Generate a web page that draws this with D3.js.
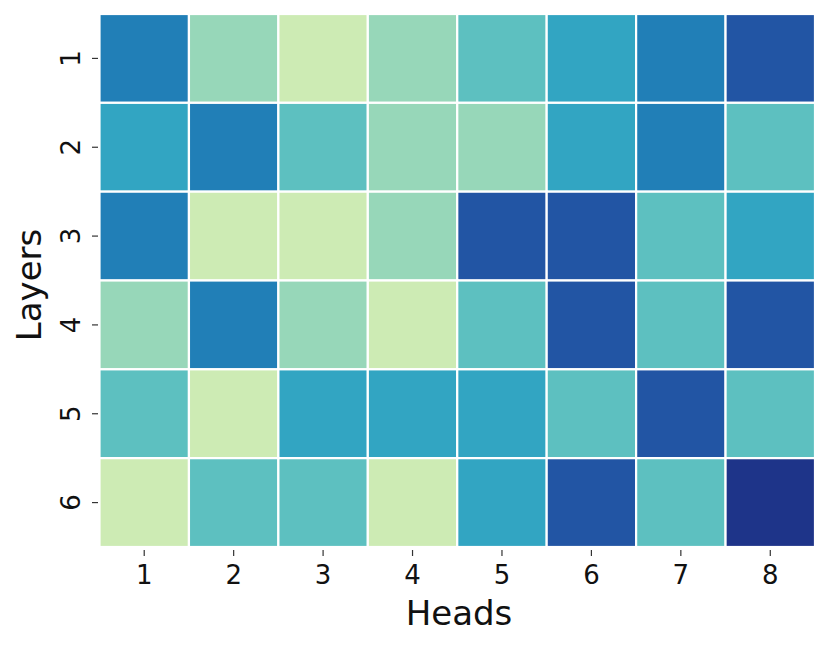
<!DOCTYPE html>
<html><head><meta charset="utf-8">
<script src="https://cdn.jsdelivr.net/npm/d3@7"></script>
<style>html,body{margin:0;padding:0;background:#fff;} svg{display:block;font-family:"DejaVu Sans",sans-serif;}</style>
</head><body>
<script>
const heads = ["1","2","3","4","5","6","7","8"];
const layers = ["1","2","3","4","5","6"];
const row1 = [6,3,2,3,4,5,6,7];
const row2 = [5,6,4,3,3,5,6,4];
const row3 = [6,2,2,3,7,7,4,5];
const row4 = [3,6,3,2,4,7,4,7];
const row5 = [4,2,5,5,5,4,7,4];
const row6 = [2,4,4,2,5,7,4,8];
const values = [row1,row2,row3,row4,row5,row6];

const W = 831, H = 647;
const m = {left: 99.5, right: 16, top: 14, bottom: 100};
const svg = d3.select("body").append("svg").attr("width", W).attr("height", H);

const x = d3.scaleBand().domain(heads).range([m.left, W - m.right]);
const y = d3.scaleBand().domain(layers).range([m.top, H - m.bottom]);
const color = d3.scaleSequential(d3.interpolateYlGnBu).domain([0, 9]);

const cells = [];
values.forEach((r, i) => r.forEach((v, j) => cells.push({layer: layers[i], head: heads[j], v})));

svg.append("g").selectAll("rect").data(cells).join("rect")
  .attr("x", d => x(d.head)).attr("y", d => y(d.layer))
  .attr("width", x.bandwidth()).attr("height", y.bandwidth())
  .attr("fill", d => color(d.v))
  .attr("stroke", "#fff").attr("stroke-width", 2.2);

const xAxis = svg.append("g").attr("transform", `translate(0,${H - m.bottom})`)
  .call(d3.axisBottom(x).tickSize(6));
xAxis.select(".domain").remove();
xAxis.selectAll("line").attr("stroke", "#333").attr("stroke-width", 1.2).attr("y1", 3).attr("y2", 9);
xAxis.selectAll("text").attr("font-size", 26).attr("fill", "#111").attr("font-family", "DejaVu Sans")
  .attr("dy", null).attr("y", 37);

const yAxis = svg.append("g").attr("transform", `translate(${m.left},0)`)
  .call(d3.axisLeft(y).tickSize(6));
yAxis.select(".domain").remove();
yAxis.selectAll("line").attr("stroke", "#333").attr("stroke-width", 1.2).attr("x1", -1.5).attr("x2", -7.5);
yAxis.selectAll("text")
  .attr("font-size", 26).attr("fill", "#111").attr("font-family", "DejaVu Sans")
  .attr("x", null)
  .attr("text-anchor", "middle")
  .attr("transform", "translate(-29.5,0) rotate(-90)")
  .attr("dy", "0.365em");

svg.append("text").attr("x", 459).attr("y", 625)
  .attr("text-anchor", "middle").attr("font-size", 34).attr("fill", "#111").text("Heads");
svg.append("text").attr("transform", `translate(41,285) rotate(-90)`)
  .attr("text-anchor", "middle").attr("font-size", 34).attr("fill", "#111").text("Layers");
</script>
</body></html>
